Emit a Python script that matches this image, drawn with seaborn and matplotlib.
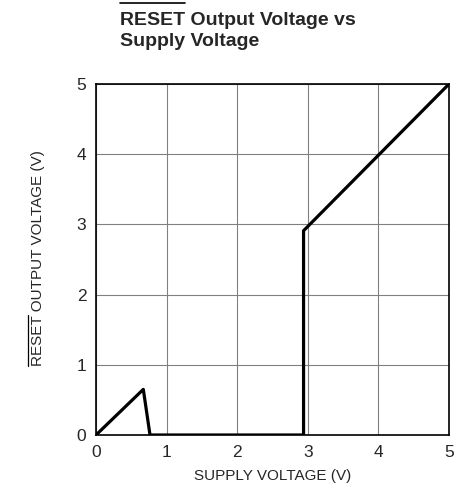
import matplotlib
matplotlib.use("Agg")
import matplotlib.pyplot as plt
from matplotlib import font_manager
from matplotlib.lines import Line2D
import seaborn as sns
import pandas as pd

supply_v = [0.0, 0.67, 0.765, 2.94, 2.94, 5.0]
reset_v = [0.0, 0.65, 0.0, 0.0, 2.91, 5.0]
x_ticks = [0, 1, 2, 3, 4, 5]
y_ticks = [0, 1, 2, 3, 4, 5]

sns.set_style("white")
names = {f.name for f in font_manager.fontManager.ttflist}
fam = "Liberation Sans Narrow" if "Liberation Sans Narrow" in names else "Liberation Sans"
plt.rcParams["font.family"] = [fam, "DejaVu Sans"]

fig = plt.figure(figsize=(4.74, 4.92), dpi=100)
ax = fig.add_axes([96/474, 1-435/492, (449-96)/474, (435-84)/492])

df = pd.DataFrame({"x": supply_v, "y": reset_v})
sns.lineplot(data=df, x="x", y="y", sort=False, estimator=None, ax=ax,
             color="black", linewidth=2.3, zorder=3)

ax.set_xlim(0, 5)
ax.set_ylim(0, 5)
ax.set_xticks(x_ticks)
ax.set_yticks(y_ticks)
ax.set_xticklabels([str(t) for t in x_ticks])
ax.set_yticklabels([str(t) for t in y_ticks])
ax.tick_params(length=0, labelsize=12.5, pad=7)
ax.grid(True, color="#808080", linewidth=0.8)
for s in ax.spines.values():
    s.set_color("black")
    s.set_linewidth(1.2)

ax.set_xlabel("SUPPLY VOLTAGE (V)", fontsize=11, labelpad=7)
ax.set_ylabel("")

# y label with overline
ylab = fig.text(38/474, 1-258/492, "RESET OUTPUT VOLTAGE (V)", rotation=90,
                ha="center", va="center", fontsize=11)
# title
title = fig.text(120/474, 1-12/492, "RESET Output Voltage vs\nSupply Voltage",
                 ha="left", va="top", fontsize=14, fontweight="bold",
                 linespacing=1.3)

fig.canvas.draw()
r = fig.canvas.get_renderer()
# title overline
tmp = fig.text(0, 0, "RESET", fontsize=14, fontweight="bold")
w = tmp.get_window_extent(r).width
tmp.remove()
tb = title.get_window_extent(r)
x0 = tb.x0
yline = 1 - 3/492
fig.add_artist(Line2D([x0/474, (x0 + w)/474], [yline, yline],
                      color="black", linewidth=1.2, transform=fig.transFigure))
# ylabel overline
tmp = fig.text(0, 0, "RESET", fontsize=11)
w2 = tmp.get_window_extent(r).width
tmp.remove()
yb = ylab.get_window_extent(r)
xl = (yb.x0 - 3) / 474
fig.add_artist(Line2D([xl, xl], [yb.y0/492, (yb.y0 + w2)/492],
                      color="black", linewidth=0.9, transform=fig.transFigure))

fig.savefig("out.png", dpi=100)
